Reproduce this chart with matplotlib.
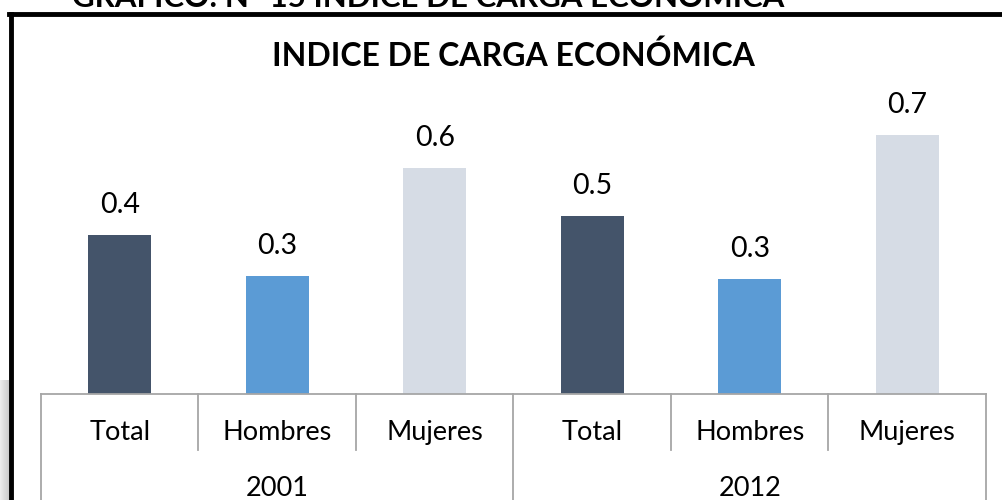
import matplotlib
matplotlib.use("Agg")
import matplotlib.pyplot as plt
import numpy as np
from matplotlib.lines import Line2D
import matplotlib.transforms as mtransforms

# ---- data ----
years = ["2001", "2012"]
categories = ["Total", "Hombres", "Mujeres"]
values_2001 = [0.43, 0.32, 0.61]
values_2012 = [0.48, 0.31, 0.70]
colors = ["#44546A", "#5B9BD5", "#D6DCE5"]
chart_title = "INDICE DE CARGA ECONÓMICA"
header_title = "GRÁFICO: N° 15 INDICE DE CARGA ECONÓMICA"

FONT = ["Lato", "DejaVu Sans"]
plt.rcParams["font.family"] = FONT

W, H = 1003, 500
fig = plt.figure(figsize=(W / 100, H / 100), dpi=100)
fig.patch.set_facecolor("white")

# axes placement (pixels)
ax_left, ax_right, ax_bottom, ax_top = 41, 986, 394, 98
ax = fig.add_axes([ax_left / W, 1 - ax_bottom / H,
                   (ax_right - ax_left) / W, (ax_bottom - ax_top) / H])
ax_h_px = ax_bottom - ax_top

all_vals = values_2001 + values_2012
labels = categories * len(years)
x = np.arange(len(all_vals))
bar_colors = colors * len(years)

ax.bar(x, all_vals, width=0.4, color=bar_colors, zorder=2)
ax.set_xlim(-0.5, len(all_vals) - 0.5)
ax.set_ylim(0, 0.8)

for xi, v in zip(x, all_vals):
    ax.annotate(f"{v:.1f}", (xi, v), xytext=(0, 30 * 0.72),
                textcoords="offset points", ha="center", va="center",
                fontsize=20.5, color="#000000")

for s in ["left", "right", "top"]:
    ax.spines[s].set_visible(False)
ax.spines["bottom"].set_color("#A6A6A6")
ax.spines["bottom"].set_linewidth(1.3)
ax.set_yticks([])
ax.set_xticks(x)
ax.set_xticklabels(labels, fontsize=19.5)
ax.tick_params(axis="x", length=0, pad=19)

trans = mtransforms.blended_transform_factory(ax.transData, ax.transAxes)
n = len(categories)
# short dividers between categories
for g in range(len(years)):
    for k in range(1, n):
        xd = g * n + k - 0.5
        ax.add_line(Line2D([xd, xd], [0, -56 / ax_h_px], transform=trans,
                           color="#A6A6A6", lw=1.3, clip_on=False))
# long dividers between groups
for g in range(len(years) + 1):
    xd = g * n - 0.5
    ax.add_line(Line2D([xd, xd], [0, -0.5], transform=trans,
                       color="#A6A6A6", lw=1.3, clip_on=False))
# year labels
for g, yr in enumerate(years):
    ax.text(g * n + (n - 1) / 2, -95 / ax_h_px, yr, transform=trans,
            ha="center", va="center", fontsize=19.5, color="#000000")

# chart title
fig.text(513.5 / W, 1 - 56 / H, chart_title, ha="center", va="center",
         fontsize=23, fontweight="bold", color="#000000")

# header (cut off at top, as in the reference)
fig.text(72 / W, 1 - 7 / H, header_title, ha="left", va="baseline",
         fontsize=22.5, fontweight="bold", color="#000000")

# frame
fig.add_artist(Line2D([10.5 / W, 10.5 / W], [0, 1 - 13.5 / H],
                      transform=fig.transFigure, color="black", lw=3.5))
fig.add_artist(Line2D([8.8 / W, 1.0], [1 - 13.5 / H, 1 - 13.5 / H],
                      transform=fig.transFigure, color="black", lw=3.5))

# shadow at bottom-left
sh = fig.add_axes([0, 0, 8.5 / W, (H - 380) / H])
grad = np.linspace(0.93, 0.80, 50)[None, :]
sh.imshow(np.repeat(grad, 10, axis=0), cmap="gray", vmin=0, vmax=1,
          aspect="auto", extent=[0, 1, 0, 1])
sh.set_axis_off()

fig.savefig("out.png", dpi=100, facecolor="white")
